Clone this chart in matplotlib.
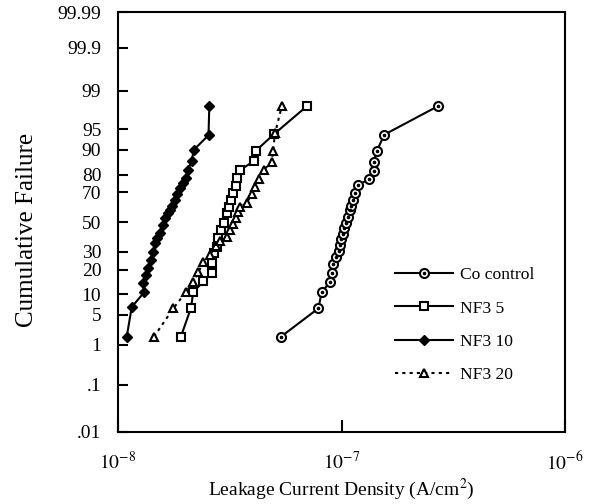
import numpy as np
import matplotlib
matplotlib.use("Agg")
import matplotlib.pyplot as plt
from matplotlib.legend_handler import HandlerTuple
from math import erf

plt.rcParams['font.family'] = ['Liberation Serif', 'DejaVu Serif']
plt.rcParams['mathtext.fontset'] = 'stix'

# Co control
co_x = [5.35e-8, 7.87e-8, 8.14e-8, 8.88e-8, 9.03e-8, 9.18e-8, 9.45e-8, 9.72e-8,
        9.85e-8, 9.95e-8, 1.013e-7, 1.03e-7, 1.045e-7, 1.065e-7, 1.09e-7, 1.10e-7,
        1.125e-7, 1.15e-7, 1.18e-7, 1.32e-7, 1.39e-7, 1.39e-7, 1.44e-7, 1.55e-7, 2.70e-7]
co_y = [2.1, 6.3, 10.6, 14.5, 18.5, 22.8, 26.9, 30.6, 34.5, 38.2, 41.9, 45.8, 49.6,
        53.7, 58.4, 61.5, 65.2, 69.8, 74.2, 77.5, 81.7, 85.8, 89.7, 93.9, 98.0]

# NF3 5
nf5_x = [1.91e-8, 2.12e-8, 2.17e-8, 2.41e-8, 2.625e-8, 2.625e-8, 2.68e-8, 2.76e-8,
         2.80e-8, 2.89e-8, 2.97e-8, 3.06e-8, 3.14e-8, 3.20e-8, 3.27e-8, 3.36e-8,
         3.41e-8, 3.515e-8, 4.05e-8, 4.14e-8, 4.98e-8, 7.0e-8]
nf5_y = [2.1, 6.4, 10.75, 14.6, 18.5, 23.2, 29.0, 33.1, 38.6, 44.4, 49.1, 56.1,
         60.7, 65.2, 69.4, 73.8, 78.0, 82.1, 86.0, 89.7, 94.0, 98.0]

# NF3 10
nf10_x = [1.094e-8, 1.152e-8, 1.307e-8, 1.298e-8, 1.33e-8, 1.366e-8, 1.405e-8,
          1.438e-8, 1.463e-8, 1.49e-8, 1.541e-8, 1.584e-8, 1.622e-8, 1.678e-8,
          1.709e-8, 1.747e-8, 1.795e-8, 1.845e-8, 1.90e-8, 1.96e-8, 2.008e-8,
          2.05e-8, 2.137e-8, 2.18e-8, 2.54e-8, 2.56e-8]
nf10_y = [2.1, 6.6, 10.6, 14.0, 17.3, 20.8, 25.0, 30.0, 35.5, 38.9, 42.3, 47.9,
          52.8, 56.0, 58.4, 61.3, 65.2, 69.0, 72.5, 75.3, 78.3, 82.1, 86.0, 89.9,
          93.8, 98.0]

# NF3 20
nf20_x = [1.448e-8, 1.768e-8, 2.015e-8, 2.17e-8, 2.29e-8, 2.41e-8, 2.58e-8, 2.74e-8,
          2.86e-8, 3.06e-8, 3.17e-8, 3.27e-8, 3.36e-8, 3.44e-8, 3.515e-8, 3.76e-8,
          3.96e-8, 4.10e-8, 4.26e-8, 4.48e-8, 4.87e-8, 4.93e-8, 5.04e-8, 5.40e-8]
nf20_y = [2.1, 6.3, 10.75, 14.4, 18.9, 23.7, 28.0, 33.5, 36.8, 39.7, 44.4, 48.6,
          52.8, 57.0, 60.7, 63.0, 69.0, 73.4, 77.9, 82.1, 85.8, 89.6, 94.2, 98.0]

# the printed probability paper sits its "1" and ".1" lines a little high
ytick_vals = [0.01, 0.195, 1.47, 5, 10, 20, 30, 50, 70, 80, 90, 95, 99, 99.9, 99.99]
ytick_labels = ['.01', '.1', '1', '5', '10', '20', '30', '50', '70', '80', '90',
                '95', '99', '99.9', '99.99']


# probability (normal) axis, percent in -> z out
def ppf(p):
    p = np.clip(np.asarray(p, dtype=float) / 100.0, 1e-9, 1 - 1e-9)
    a = [-3.969683028665376e+01, 2.209460984245205e+02, -2.759285104469687e+02,
         1.383577518672690e+02, -3.066479806614716e+01, 2.506628277459239e+00]
    b = [-5.447609879822406e+01, 1.615858368580409e+02, -1.556989798598866e+02,
         6.680131188771972e+01, -1.328068155288572e+01]
    c = [-7.784894002430293e-03, -3.223964580411365e-01, -2.400758277161838e+00,
         -2.549732539343734e+00, 4.374664141464968e+00, 2.938163982698783e+00]
    d = [7.784695709041462e-03, 3.224671290700398e-01, 2.445134137142996e+00,
         3.754408661907416e+00]
    lo = 0.02425
    out = np.empty_like(p)
    m1 = p < lo
    m3 = p > 1 - lo
    m2 = ~(m1 | m3)
    q = np.sqrt(-2 * np.log(p[m1]))
    out[m1] = (((((c[0]*q+c[1])*q+c[2])*q+c[3])*q+c[4])*q+c[5]) / ((((d[0]*q+d[1])*q+d[2])*q+d[3])*q+1)
    q = p[m2] - 0.5
    r = q * q
    out[m2] = (((((a[0]*r+a[1])*r+a[2])*r+a[3])*r+a[4])*r+a[5])*q / (((((b[0]*r+b[1])*r+b[2])*r+b[3])*r+b[4])*r+1)
    q = np.sqrt(-2 * np.log(1 - p[m3]))
    out[m3] = -(((((c[0]*q+c[1])*q+c[2])*q+c[3])*q+c[4])*q+c[5]) / ((((d[0]*q+d[1])*q+d[2])*q+d[3])*q+1)
    return out


def cdf(z):
    z = np.asarray(z, dtype=float)
    return 100.0 * 0.5 * (1 + np.vectorize(erf)(z / np.sqrt(2)))


fig = plt.figure(figsize=(5.9, 5.04), dpi=100)
ax = fig.add_axes([0.2, 0.143, 0.758, 0.833])
ax.set_xscale('log')
ax.set_yscale('function', functions=(ppf, cdf))

lw = 1.5
l_co, = ax.plot(co_x, co_y, '-', color='black', lw=lw, marker='o', ms=6.5,
                mfc='white', mec='black', mew=1.5, label='Co control')
d_co, = ax.plot(co_x, co_y, 'none', marker='o', ms=1.6, mfc='black', mec='black')
l_5, = ax.plot(nf5_x, nf5_y, '-', color='black', lw=lw, marker='s', ms=6,
               mfc='white', mec='black', mew=1.5, label='NF3 5')
l_10, = ax.plot(nf10_x, nf10_y, '-', color='black', lw=lw, marker='D', ms=5.5,
                mfc='black', mec='black', label='NF3 10')
l_20, = ax.plot(nf20_x, nf20_y, color='black', lw=lw, ls=(0, (1.5, 2)), marker='^',
                ms=6, mfc='white', mec='black', mew=1.5, label='NF3 20')

ax.set_xlim(1e-8, 1e-6)
ax.set_ylim(0.01, 99.99)
ax.set_yticks(ytick_vals)
ax.set_yticklabels(ytick_labels)
ax.yaxis.set_minor_locator(matplotlib.ticker.NullLocator())
ax.set_xticks([1e-8, 1e-7, 1e-6])
ax.set_xticklabels([r'$10^{-8}$', r'$10^{-7}$', r'$10^{-6}$'])
ax.xaxis.set_minor_locator(matplotlib.ticker.NullLocator())

ax.tick_params(axis='y', direction='in', length=7, width=1.5, labelsize=14, pad=12)
ax.tick_params(axis='x', direction='in', length=9, width=1.5, labelsize=14, pad=14)
for s in ax.spines.values():
    s.set_linewidth(1.5)

ax.set_xlabel(r'Leakage Current Density (A/cm$^2$)', fontsize=14, labelpad=2)
ax.set_ylabel('Cumulative Failure', fontsize=18)
ax.yaxis.set_label_coords(-0.18, 0.48)

leg = ax.legend([(l_co, d_co), l_5, l_10, l_20],
                ['Co control', 'NF3 5', 'NF3 10', 'NF3 20'],
                handler_map={tuple: HandlerTuple(ndivide=1)},
                loc='upper left', bbox_to_anchor=(0.62, 0.393), frameon=False,
                fontsize=12.6, handlelength=3.3, handletextpad=0.4,
                labelspacing=0.98, borderpad=0, borderaxespad=0)

fig.savefig('out.png', dpi=100)
